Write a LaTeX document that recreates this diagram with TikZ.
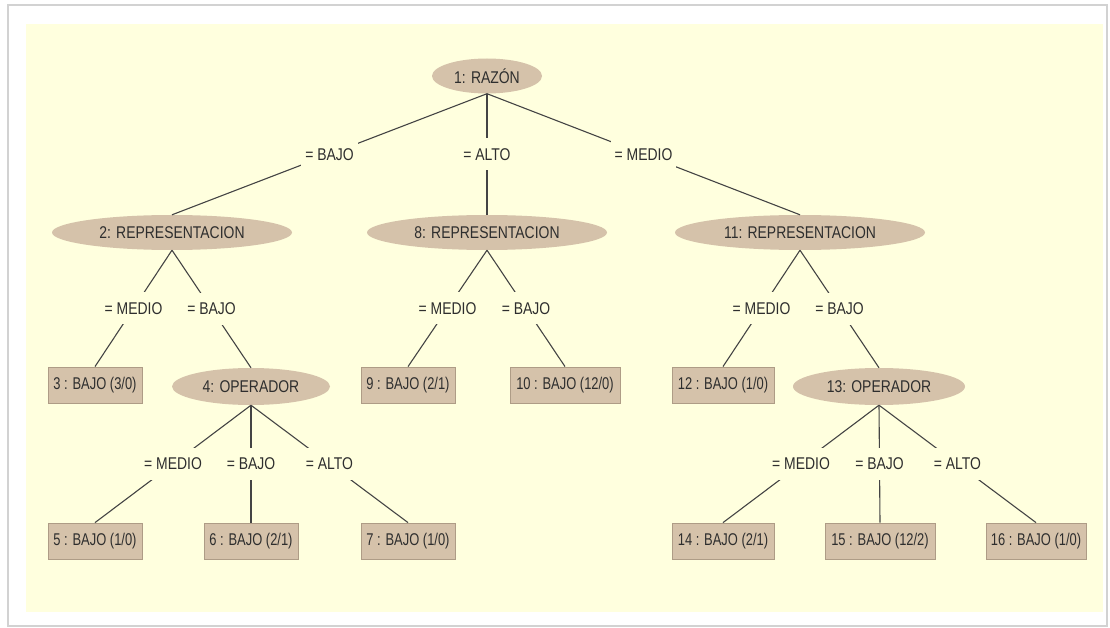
\documentclass[tikz,border=0pt]{standalone}
\usepackage{fontspec}
\setmainfont[FakeStretch=0.82]{Liberation Sans}
\newfontfamily\leaffont[FakeStretch=0.76]{Liberation Sans}
\usetikzlibrary{shapes.geometric}
\definecolor{bgyel}{HTML}{FFFFDE}
\definecolor{tan}{HTML}{D5C2AA}
\definecolor{tanedge}{HTML}{AE9C86}
\definecolor{txt}{HTML}{2E2E2E}
\definecolor{edgec}{HTML}{444444}
\tikzset{
  base/.style={font=\fontsize{17}{19}\selectfont, text=txt, inner sep=0pt},
  ell/.style={base, ellipse, fill=tan, minimum height=35pt},
  leaf/.style={base, font=\leaffont\fontsize{17}{19}\selectfont, rectangle, fill=tan, draw=tanedge, line width=0.8pt, minimum height=36pt},
  lbl/.style={base, fill=bgyel, minimum height=32pt, inner xsep=4pt},
  conn/.style={draw=edgec, line width=1.1pt}
}
\begin{document}
\begin{tikzpicture}[x=1pt, y=-1pt]
\useasboundingbox (0,0) rectangle (1110,628);
\fill[white] (0,0) rectangle (1110,628);
\draw[gray!35, line width=2pt] (8,5) rectangle (1107,626);
\fill[bgyel] (26,24) rectangle (1103,612);

% level 0
\node[ell, minimum width=110pt] (n1) at (487,76) {1: RAZÓN};
% level 1
\node[ell, minimum width=240pt] (n2) at (172,232.5) {2: REPRESENTACION};
\node[ell, minimum width=240pt] (n8) at (487,232.5) {8: REPRESENTACION};
\node[ell, minimum width=250pt] (n11) at (800,232.5) {11: REPRESENTACION};
% level 2
\node[leaf, minimum width=94pt] (n3) at (95,385) {3 : BAJO (3/0)};
\node[ell, minimum width=158pt, minimum height=37pt] (n4) at (251,386.5) {4: OPERADOR};
\node[leaf, minimum width=94pt] (n9) at (408,385) {9 : BAJO (2/1)};
\node[leaf, minimum width=110pt] (n10) at (565,385) {10 : BAJO (12/0)};
\node[leaf, minimum width=102pt] (n12) at (723,385) {12 : BAJO (1/0)};
\node[ell, minimum width=172pt, minimum height=37pt] (n13) at (879,386.5) {13: OPERADOR};
% level 3
\node[leaf, minimum width=94pt] (n5) at (95,541) {5 : BAJO (1/0)};
\node[leaf, minimum width=94pt] (n6) at (251,541) {6 : BAJO (2/1)};
\node[leaf, minimum width=94pt] (n7) at (408,541) {7 : BAJO (1/0)};
\node[leaf, minimum width=102pt] (n14) at (723,541) {14 : BAJO (2/1)};
\node[leaf, minimum width=110pt] (n15) at (880,541) {15 : BAJO (12/2)};
\node[leaf, minimum width=100pt] (n16) at (1036,541) {16 : BAJO (1/0)};

% connectors
\draw[conn] (n1.south) -- node[lbl] {= BAJO} (n2.north);
\draw[conn] (n1.south) -- node[lbl] {= ALTO} (n8.north);
\draw[conn] (n1.south) -- node[lbl] {= MEDIO} (n11.north);

\draw[conn] (n2.south) -- node[lbl] {= MEDIO} (n3.north);
\draw[conn] (n2.south) -- node[lbl] {= BAJO} (n4.north);
\draw[conn] (n8.south) -- node[lbl] {= MEDIO} (n9.north);
\draw[conn] (n8.south) -- node[lbl] {= BAJO} (n10.north);
\draw[conn] (n11.south) -- node[lbl] {= MEDIO} (n12.north);
\draw[conn] (n11.south) -- node[lbl] {= BAJO} (n13.north);

\draw[conn] (n4.south) -- node[lbl] {= MEDIO} (n5.north);
\draw[conn] (n4.south) -- node[lbl] {= BAJO} (n6.north);
\draw[conn] (n4.south) -- node[lbl] {= ALTO} (n7.north);
\draw[conn] (n13.south) -- node[lbl] {= MEDIO} (n14.north);
\draw[conn] (n13.south) -- node[lbl] {= BAJO} (n15.north);
\draw[conn] (n13.south) -- node[lbl] {= ALTO} (n16.north);
\end{tikzpicture}
\end{document}
